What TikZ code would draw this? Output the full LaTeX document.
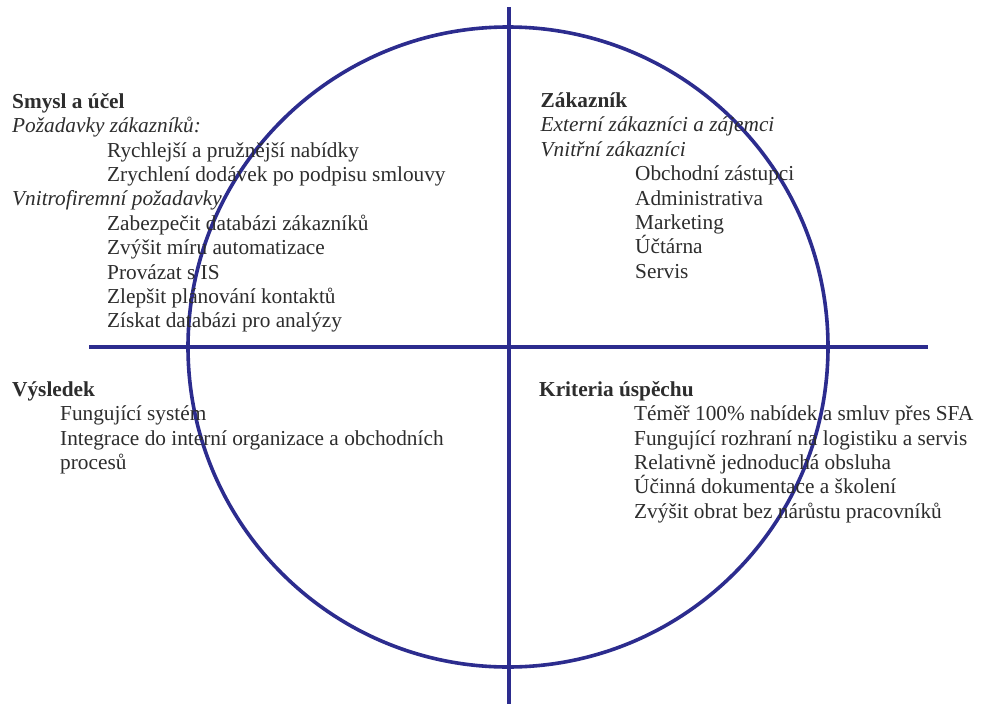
\documentclass[tikz,border=0pt]{standalone}
\usepackage{fontspec}
\setmainfont{Liberation Serif}
\definecolor{lineblue}{RGB}{44,44,142}
\definecolor{txtgray}{RGB}{45,45,45}
\begin{document}
\begin{tikzpicture}[x=1pt,y=-1pt,
  axis/.style={draw=lineblue,line width=3.6pt},
  txt/.style={anchor=base west,inner sep=0pt,text=txtgray,font=\fontsize{21.3}{24}\selectfont},
  head/.style={txt,font=\fontsize{21.3}{24}\selectfont\bfseries},
  sub/.style={txt,font=\fontsize{21.3}{24}\selectfont\itshape}]
\useasboundingbox[fill=white] (0,0) rectangle (982,704);
% axes and circle
\coordinate (top) at (509,7);
\coordinate (bot) at (509,704);
\coordinate (lft) at (89,347);
\coordinate (rgt) at (928,347);
\node[circle,draw=lineblue,line width=3.6pt,minimum size=640pt,inner sep=0pt] (circ) at (508,347) {};
\draw[axis] (top) -- (bot);
\draw[axis] (lft) -- (rgt);
% top left
\node[head] (tl0) at (12,108.3) {Smysl a účel};
\node[sub]  (tl1) at (12,132.7) {Požadavky zákazníků:};
\node[txt]  (tl2) at (107,157.1) {Rychlejší a pružnější nabídky};
\node[txt]  (tl3) at (107,181.5) {Zrychlení dodávek po podpisu smlouvy};
\node[sub]  (tl4) at (12,205.9) {Vnitrofiremní požadavky};
\node[txt]  (tl5) at (107,230.3) {Zabezpečit databázi zákazníků};
\node[txt]  (tl6) at (107,254.7) {Zvýšit míru automatizace};
\node[txt]  (tl7) at (107,279.1) {Provázat s IS};
\node[txt]  (tl8) at (107,303.5) {Zlepšit plánování kontaktů};
\node[txt]  (tl9) at (107,327.9) {Získat databázi pro analýzy};
% top right
\node[head] (tr0) at (540.5,107.5) {Zákazník};
\node[sub]  (tr1) at (540.5,131.9) {Externí zákazníci a zájemci};
\node[sub]  (tr2) at (540.5,156.3) {Vnitřní zákazníci};
\node[txt]  (tr3) at (635,180.7) {Obchodní zástupci};
\node[txt]  (tr4) at (635,205.1) {Administrativa};
\node[txt]  (tr5) at (635,229.5) {Marketing};
\node[txt]  (tr6) at (635,253.9) {Účtárna};
\node[txt]  (tr7) at (635,278.3) {Servis};
% bottom left
\node[head] (bl0) at (12,396.5) {Výsledek};
\node[txt]  (bl1) at (60,420.5) {Fungující systém};
\node[txt]  (bl2) at (60,445) {Integrace do interní organizace a obchodních};
\node[txt]  (bl3) at (60,469.4) {procesů};
% bottom right
\node[head] (br0) at (539,396.5) {Kriteria úspěchu};
\node[txt]  (br1) at (634,420.5) {Téměř 100\% nabídek a smluv přes SFA};
\node[txt]  (br2) at (634,445) {Fungující rozhraní na logistiku a servis};
\node[txt]  (br3) at (634,469.4) {Relativně jednoduchá obsluha};
\node[txt]  (br4) at (634,493.8) {Účinná dokumentace a školení};
\node[txt]  (br5) at (634,518.2) {Zvýšit obrat bez nárůstu pracovníků};
\end{tikzpicture}
\end{document}
